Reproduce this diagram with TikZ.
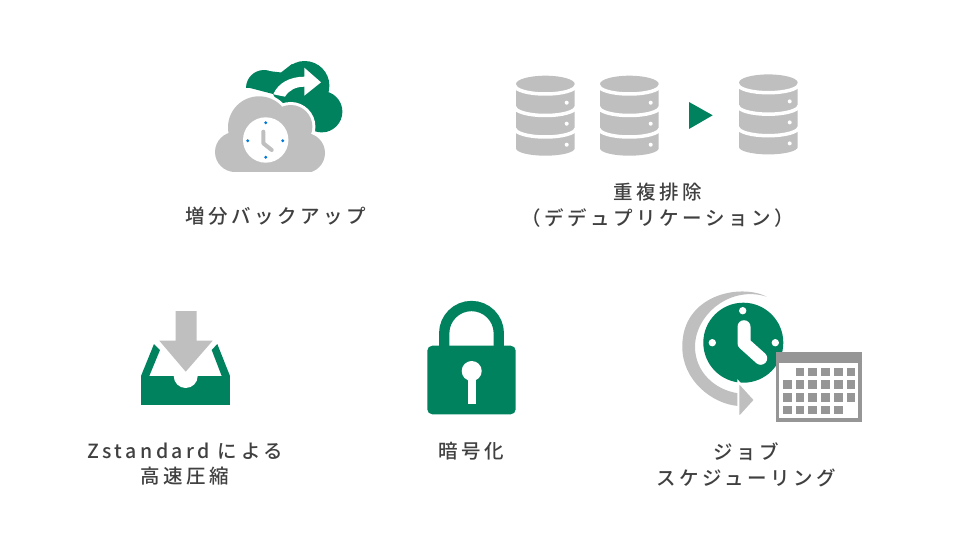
\documentclass[tikz,border=0pt]{standalone}
\usepackage{fontspec}
\setmainfont{Noto Sans CJK JP Medium}[LetterSpace=18]
\definecolor{keygreen}{HTML}{00825F}
\definecolor{softgray}{HTML}{BFBFBF}
\definecolor{calgray}{HTML}{969696}
\definecolor{labelgray}{HTML}{404040}
\definecolor{tickblue}{HTML}{0078D7}
\tikzset{
    %Define style for labels
    caption/.style={
           align=center,
           text=labelgray,
           inner sep=0pt,
           font=\fontsize{19.5}{25.5}\selectfont,
           },
    % Define styles for shapes
    greenpart/.style={fill=keygreen},
    graypart/.style={fill=softgray},
    calpart/.style={fill=calgray},
    gapline/.style={draw=white, line width=3.5pt},
}
\begin{document}
\begin{tikzpicture}[x=1pt,y=-1pt]
\useasboundingbox (0,0) rectangle (960,540);
% cloud backup
\fill[greenpart] (246,88) arc[start angle=180,end angle=360,radius=18] -- cycle;
\fill[greenpart] (304.7,85.7) circle[radius=24.7] (321.7,111.7) circle[radius=20.7];
\fill[greenpart] (268,71) .. controls (273,71.5) and (277,72) .. (281,72.5) -- (292,64) -- (300,70) -- (340,105) -- (327,132) -- (290,125) -- (273,94) -- (250,88) -- cycle;
\fill[white] (304.3,67.7) -- (321,82.3) -- (304.3,95.7) -- (304.3,86.7)
	.. controls (296,86.7) and (289,90) .. (285,96.7) -- (273.3,94.3)
	.. controls (278,83) and (290,76.7) .. (304.3,76.7) -- cycle;
\begin{scope}
\clip (200,80) rectangle (345,172);
\draw[white,line width=6pt] (259,127.3) circle[radius=31] (290.7,126.7) circle[radius=21.7] (305,153) circle[radius=20];
\fill[graypart] (259,127.3) circle[radius=31] (290.7,126.7) circle[radius=21.7];
\fill[graypart] (235,152) circle[radius=20] (305,153) circle[radius=20];
\fill[graypart] (232,128) rectangle (308,172);
\end{scope}
\fill[white] (265.7,140) circle[radius=22.7];
\foreach \px/\py in {265.7/122.7,265.7/157.3,247.7/140.7,282.7/140.7}
	\fill[tickblue] (\px,\py) circle[radius=1.6];
\draw[softgray,line width=4pt,line cap=round,line join=round] (263.3,131.7) -- (263.3,143.3) -- (271.7,150);
% storage
\foreach \dx/\dy in {0/0,84/0,223/-1.3}{
	\begin{scope}[shift={(\dx,\dy)}]
	\fill[graypart] (516,85.5) -- (516,148.3) arc[start angle=180,end angle=0,x radius=29.35,y radius=7.4] -- (574.7,85.5) -- cycle;
	\fill[graypart] (545.35,84) ellipse[x radius=29.35,y radius=8.3];
	\foreach \ly in {85.5,107,128.5}
		\draw[gapline] (514.85,\ly) arc[start angle=180,end angle=0,x radius=30.5,y radius=8.5];
	\foreach \ly in {102.7,123.7,144.7}
		\fill[white] (566.7,\ly) circle[radius=2];
	\end{scope}
}
\fill[greenpart] (689,102) -- (712.7,115.3) -- (689,129) -- cycle;
% inbox
\fill[greenpart] (141,376) rectangle (230,405);
\fill[white] (173.7,376) arc[start angle=180,end angle=0,radius=12] -- cycle;
\fill[greenpart] (141,376) -- (154,344) -- (160,350) -- (149.3,376) -- cycle;
\fill[greenpart] (230,376) -- (217.3,344) -- (211.7,350) -- (221.7,376) -- cycle;
\fill[graypart] (175.7,311) -- (196.7,311) -- (196.7,340.7) -- (212.7,340.7) -- (185.7,371.7) -- (159.3,340.7) -- (175.7,340.7) -- cycle;
% lock
\fill[greenpart,rounded corners=5pt] (427.3,345.7) rectangle (515.7,414.3);
\draw[keygreen,line width=10.3pt] (444.2,348) -- (444.2,333.3) arc[start angle=180,end angle=360,radius=27.3] -- (498.8,348);
\fill[white] (471.7,371) circle[radius=10];
\fill[white] (467.7,371) rectangle (476,403.7);
% schedule
\fill[graypart] (766.7,296.7) .. controls (740,283) and (682,295) .. (682.3,346.7)
	.. controls (682,380) and (712,404) .. (738.3,406) -- (738.3,393.3)
	.. controls (715,390) and (695,372) .. (695,346.7)
	.. controls (695,315) and (730,285) .. (766.7,296.7) -- cycle;
\fill[greenpart] (743.3,342.7) circle[radius=40];
\foreach \px/\py in {742.7/310.7,712.3/342.7,775.3/342.7}
	\fill[white] (\px,\py) circle[radius=3.7];
\draw[white,line width=13pt,line cap=round,line join=round] (744,326.7) -- (744,343.3) -- (760.7,358.3);
\draw[white,line width=2pt,fill=softgray,line join=miter] (738.3,381.7) -- (755,400) -- (738.3,418.3) -- cycle;
\fill[calpart] (776,352) rectangle (861.7,421.7);
\fill[white] (779.3,363.3) rectangle (858.4,418.4);
\foreach \ry/\cols in {372/{2,3,4,5,6},384.3/{1,2,3,4,5,6},397.3/{1,2,3,4,5,6},410/{1,2,3,4,5}}{
	\foreach \cx in \cols
		\fill[calpart] ({787.3+12.7*(\cx-1)-4.3},\ry-4.3) rectangle ++(8.7,8.7);
}
% labels
\node[caption] (backup) at (275.5,216) {増分バックアップ};
\node[caption] (dedup) at (657.5,205) {重複排除\\（デデュプリケーション）};
\node[caption] (zstd) at (185,464) {Zstandard による\\高速圧縮};
\node[caption] (crypt) at (471,451) {暗号化};
\node[caption] (job) at (746,465) {ジョブ\\スケジューリング};
\end{tikzpicture}
\end{document}
